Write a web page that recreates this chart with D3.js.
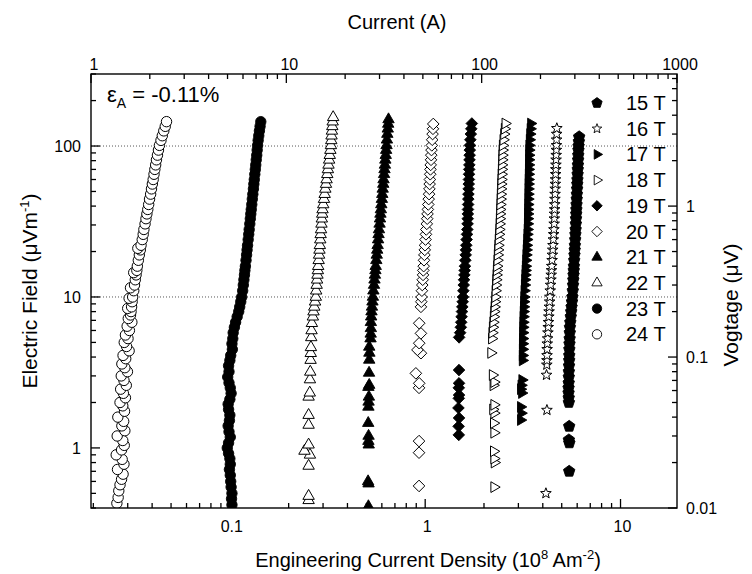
<!DOCTYPE html>
<html>
<head>
<meta charset="utf-8">
<style>
  body { margin: 0; background: #fff; }
  svg { font-family: Arial, "Liberation Sans", sans-serif; }
</style>
</head>
<body>
<svg width="752" height="574"></svg>
<script src="https://d3js.org/d3.v7.min.js"></script>
<script>
// points are [Je (1e8 A/m2), E (uV/m)]
const b15 = [[6.14,115],[6.12,107],[6.10,100],[6.09,94],[6.077,87],[6.066,81],[6.053,75],[6.042,70],[6.03,65],[6.017,60],[6.006,56],[5.994,52],[5.981,48],[5.968,44.5],[5.955,41],[5.943,38],[5.932,35.5],[5.92,33],[5.907,30.5],[5.891,28],[5.876,26],[5.86,24],[5.841,22],[5.827,20.5],[5.811,19],[5.794,17.5],[5.775,16],[5.762,15],[5.748,14],[5.733,13],[5.716,12],[5.697,11],[5.67,10],[5.644,9.3],[5.616,8.6],[5.591,8],[5.564,7.4],[5.533,6.8],[5.508,6.3],[5.5,5.8],[5.49,5.3],[5.48,4.9],[5.47,4.5],[5.465,4.1],[5.46,3.8],[5.45,3.5],[5.44,3.2],[5.435,2.95],[5.43,2.7],[5.42,2.5],[5.42,2.32],[5.43,2.15],[5.44,2.0],
  [5.46,1.39],[5.44,1.13],[5.47,1.08],[5.46,0.70]];
const b16 = [[4.72,131],[4.712,120],[4.706,110],[4.70,101],[4.694,94],[4.685,87],[4.678,81],[4.67,75],[4.662,70],[4.655,65],[4.646,60],[4.639,56],[4.631,52],[4.622,48],[4.615,44.5],[4.606,41],[4.598,38],[4.591,35.5],[4.583,33],[4.575,30.5],[4.561,28],[4.546,26],[4.53,24],[4.511,22],[4.497,20.5],[4.481,19],[4.464,17.5],[4.445,16],[4.432,15],[4.418,14],[4.403,13],[4.386,12],[4.367,11],[4.349,10],[4.336,9.3],[4.322,8.6],[4.308,8],[4.294,7.4],[4.278,6.8],[4.265,6.3],[4.249,5.8],[4.233,5.3],[4.218,4.9],[4.21,4.5],[4.205,4.1],[4.2,3.8],[4.195,3.55],
  [4.18,3.04],[4.2,1.78],[4.15,0.5]];
const b17 = [[3.47,141],[3.452,130],[3.435,120],[3.418,110],[3.402,101],[3.397,94],[3.393,87],[3.39,81],[3.386,75],[3.383,70],[3.379,65],[3.375,60],[3.372,56],[3.368,52],[3.364,48],[3.361,44.5],[3.357,41],[3.353,38],[3.35,35.5],[3.346,33],[3.342,30.5],[3.335,28],[3.325,26],[3.315,24],[3.304,22],[3.295,20.5],[3.285,19],[3.275,17.5],[3.263,16],[3.255,15],[3.246,14],[3.236,13],[3.226,12],[3.214,11],[3.205,10],[3.198,9.3],[3.19,8.6],[3.183,8],[3.176,7.4],[3.17,6.8],[3.165,6.3],[3.16,5.8],[3.155,5.3],[3.152,4.9],[3.15,4.5],[3.148,4.1],[3.146,3.8],
  [3.13,2.82],[3.1,2.6],[3.08,2.45],[3.12,2.31],[3.08,1.87],[3.1,1.7],[3.08,1.53]];
const b18 = [[2.567,141],[2.546,130],[2.527,120],[2.507,110],[2.488,101],[2.481,94],[2.475,87],[2.47,81],[2.464,75],[2.459,70],[2.453,65],[2.447,60],[2.441,56],[2.436,52],[2.429,48],[2.424,44.5],[2.417,41],[2.411,38],[2.406,35.5],[2.401,33],[2.395,30.5],[2.387,28],[2.378,26],[2.37,24],[2.36,22],[2.352,20.5],[2.344,19],[2.335,17.5],[2.325,16],[2.318,15],[2.311,14],[2.303,13],[2.294,12],[2.284,11],[2.277,10],[2.268,9.3],[2.258,8.6],[2.248,8],[2.237,7.4],[2.225,6.8],[2.212,6.3],[2.2,5.8],[2.19,5.3],
  [2.17,4.26],[2.21,3.04],[2.25,2.73],[2.23,2.6],[2.25,1.93],[2.22,1.8],[2.25,1.7],[2.24,1.46],[2.25,1.26],[2.24,0.95],[2.25,0.85],[2.26,0.8],[2.25,0.55]];
const b19 = [[1.733,141],[1.722,130],[1.712,120],[1.703,110],[1.695,101],[1.692,94],[1.689,87],[1.686,81],[1.683,75],[1.68,70],[1.677,65],[1.674,60],[1.671,56],[1.669,52],[1.665,48],[1.662,44.5],[1.659,41],[1.656,38],[1.654,35.5],[1.651,33],[1.648,30.5],[1.643,28],[1.637,26],[1.63,24],[1.623,22],[1.618,20.5],[1.612,19],[1.605,17.5],[1.598,16],[1.593,15],[1.587,14],[1.581,13],[1.575,12],[1.568,11],[1.562,10],[1.556,9.3],[1.549,8.6],[1.543,8],[1.536,7.4],[1.529,6.8],[1.522,6.3],[1.51,5.8],[1.492,5.4],
  [1.49,3.28],[1.49,2.68],[1.486,2.5],[1.49,2.24],[1.486,2.13],[1.48,1.84],[1.49,1.58],[1.483,1.39],[1.486,1.22]];
const b20 = [[1.1,140],[1.096,130],[1.091,120],[1.086,110],[1.081,101],[1.077,94],[1.074,87],[1.071,81],[1.067,75],[1.064,70],[1.061,65],[1.057,60],[1.054,56],[1.051,52],[1.047,48],[1.042,44.5],[1.037,41],[1.032,38],[1.028,35.5],[1.024,33],[1.019,30.5],[1.013,28],[1.009,26],[1.004,24],[0.998,22],[0.995,20.5],[0.991,19],[0.986,17.5],[0.982,16],[0.978,15],[0.975,14],[0.971,13],[0.966,12],[0.962,11],[0.958,10],[0.955,9.3],
  [0.951,8.6],[0.932,6.7],[0.951,5.74],[0.932,4.94],[0.913,4.46],[0.951,4.24],[0.896,3.12],[0.932,2.68],[0.93,2.5],[0.93,1.11],[0.93,0.93],[0.93,0.56]];
const b21 = [[0.649,150],[0.6465,140],[0.6435,130],[0.64,120],[0.637,110],[0.634,101],[0.631,94],[0.628,87],[0.625,81],[0.622,75],[0.619,70],[0.616,65],[0.612,60],[0.61,56],[0.606,52],[0.603,48],[0.6,44.5],[0.596,41],[0.593,38],[0.59,35.5],[0.587,33],[0.584,30.5],[0.58,28],[0.577,26],[0.574,24],[0.571,22],[0.568,20.5],[0.565,19],[0.562,17.5],[0.558,16],[0.556,15],[0.553,14],[0.55,13],[0.547,12],[0.543,11],[0.54,10],[0.537,9.3],[0.534,8.6],[0.531,8],
  [0.529,7.4],[0.527,6.8],[0.527,6.2],[0.526,5.7],[0.525,5.3],[0.517,4.67],[0.518,4.26],[0.517,3.83],[0.516,3.14],[0.517,2.61],[0.512,2.53],[0.515,2.18],[0.513,2.02],[0.512,1.87],[0.511,1.46],[0.513,1.2],[0.512,1.11],[0.514,1.05],[0.51,0.6],[0.513,0.58],[0.512,0.41]];
const b22 = [[0.338,155],[0.336,145],[0.3345,135],[0.333,126],[0.3315,117],[0.3305,109],[0.3292,101],[0.327,94],[0.3246,87],[0.3223,81],[0.3199,75],[0.3177,70],[0.3153,65],[0.3128,60],[0.3106,56],[0.3082,52],[0.3057,48],[0.3033,44.5],[0.3007,41],[0.2982,38],[0.297,35.5],[0.2957,33],[0.2944,30.5],[0.2929,28],[0.2916,26],[0.2903,24],[0.2888,22],[0.2876,20.5],[0.2863,19],[0.2849,17.5],[0.2833,16],[0.2822,15],[0.2809,14],[0.2796,13],[0.2782,12],[0.2767,11],[0.2755,10],[0.273,9.3],[0.2705,8.6],[0.268,8],
  [0.266,7.4],[0.263,6.7],[0.262,6.0],[0.261,5.4],[0.26,4.64],[0.2595,4.24],[0.259,3.82],[0.258,3.19],[0.257,2.84],[0.2565,2.32],[0.253,2.18],[0.253,1.65],[0.253,1.42],[0.253,1.05],[0.241,0.955],[0.257,0.9],[0.253,0.76],[0.253,0.48],[0.253,0.45]];
const b23 = [[0.144,145],[0.1428,135],[0.1417,126],[0.1406,117],[0.1396,109],[0.1387,101],[0.138,94],[0.1373,87],[0.1365,81],[0.1357,75],[0.135,70],[0.1342,65],[0.1334,60],[0.1327,56],[0.132,52],[0.1311,48],[0.1303,44.5],[0.1295,41],[0.1287,38],[0.128,35.5],[0.1273,33],[0.1265,30.5],[0.1256,28],[0.1249,26],[0.1241,24],[0.1232,22],[0.1225,20.5],[0.1218,19],[0.121,17.5],[0.1201,16],[0.1194,15],[0.1188,14],[0.118,13],[0.1172,12],[0.1163,11],[0.115,10],[0.1137,9.3],[0.1123,8.6],[0.111,8],
  [0.109,7.4],[0.107,6.8],[0.1055,6.3],[0.104,5.8],[0.1035,5.3],[0.1025,4.9],[0.103,4.5],[0.101,4.1],[0.1,3.8],[0.0985,3.5],[0.099,3.2],[0.0975,2.95],[0.099,2.7],[0.1005,2.5],[0.1015,2.3],[0.1,2.1],[0.098,1.95],[0.0985,1.8],[0.1,1.65],[0.0995,1.52],[0.098,1.4],[0.099,1.28],[0.1005,1.18],[0.0985,1.08],[0.097,1.0],[0.0985,0.92],[0.1,0.85],[0.1005,0.78],[0.0995,0.72],[0.1005,0.66],[0.101,0.6],[0.1015,0.55],[0.1025,0.5],[0.102,0.46],[0.1025,0.42]];
const b24 = [[0.0474,145],[0.0467,135],[0.0459,126],[0.0451,117],[0.0444,109],[0.0436,101],[0.0431,94],[0.0426,87],[0.0421,81],[0.0417,75],[0.0413,70],[0.0409,65],[0.0405,60],[0.0401,56],[0.0397,52],[0.0393,48],[0.0388,44.5],[0.0384,41],[0.038,38],[0.0376,35.5],[0.0372,33],[0.0368,30.5],[0.0363,28],[0.036,26],[0.0356,24],[0.0351,22],[0.0338,21],[0.0348,20.5],[0.0344,19],[0.034,17.5],[0.0336,16],[0.0334,15],[0.0322,14.5],[0.0331,14],[0.0328,13],[0.0325,12],[0.031,11.5],[0.0322,11],[0.0318,10],[0.0305,9.8],[0.0316,9.3],[0.0314,8.6],[0.03,8.4],[0.0312,8],
  [0.031,7.6],[0.0302,7.2],[0.0315,6.8],[0.0298,6.4],[0.0306,6.0],[0.0292,5.6],[0.0301,5.3],[0.0288,5.0],[0.0296,4.7],[0.0305,4.4],[0.0284,4.1],[0.0293,3.9],[0.028,3.6],[0.029,3.4],[0.0299,3.2],[0.0278,3.0],[0.0287,2.8],[0.0295,2.6],[0.0276,2.45],[0.0285,2.3],[0.0292,2.15],[0.0274,2.0],[0.0283,1.9],[0.0289,1.75],[0.0267,1.6],[0.0286,1.5],[0.028,1.4],[0.029,1.3],[0.0265,1.2],[0.0283,1.12],[0.0288,1.04],[0.0279,0.97],[0.0262,0.9],[0.0281,0.84],[0.0287,0.78],[0.0266,0.72],[0.0284,0.67],[0.0279,0.62],[0.0274,0.57],[0.027,0.52],[0.0268,0.47],[0.0264,0.43]];

const fields = ["15 T", "16 T", "17 T", "18 T", "19 T", "20 T", "21 T", "22 T", "23 T", "24 T"];
const fieldData = [b15, b16, b17, b18, b19, b20, b21, b22, b23, b24];

// marker per field: shape + filled or open
const markerStyle = [
  { shape: "pentagon", filled: true },
  { shape: "star", filled: false },
  { shape: "triRight", filled: true },
  { shape: "triRight", filled: false },
  { shape: "diamond", filled: true },
  { shape: "diamond", filled: false },
  { shape: "triUp", filled: true },
  { shape: "triUp", filled: false },
  { shape: "circle", filled: true },
  { shape: "circle", filled: false }
];

// custom d3 symbol types, "size" is used as the outer radius
const shapes = {
  circle: { draw(c, r) { c.moveTo(r, 0); c.arc(0, 0, r, 0, 2 * Math.PI); } },
  triUp: { draw(c, r) { c.moveTo(0, -r); c.lineTo(r * 0.866, r * 0.5); c.lineTo(-r * 0.866, r * 0.5); c.closePath(); } },
  triRight: { draw(c, r) { c.moveTo(r, 0); c.lineTo(-r * 0.5, r * 0.866); c.lineTo(-r * 0.5, -r * 0.866); c.closePath(); } },
  diamond: { draw(c, r) { c.moveTo(0, -r); c.lineTo(r, 0); c.lineTo(0, r); c.lineTo(-r, 0); c.closePath(); } },
  star: { draw(c, r) {
    for (let i = 0; i < 10; i++) {
      const a = -Math.PI / 2 + i * Math.PI / 5, rr = i % 2 ? r * 0.42 : r;
      i ? c.lineTo(rr * Math.cos(a), rr * Math.sin(a)) : c.moveTo(rr * Math.cos(a), rr * Math.sin(a));
    }
    c.closePath();
  } },
  pentagon: { draw(c, r) {
    for (let i = 0; i < 5; i++) {
      const a = -Math.PI / 2 + i * 2 * Math.PI / 5;
      i ? c.lineTo(r * Math.cos(a), r * Math.sin(a)) : c.moveTo(r * Math.cos(a), r * Math.sin(a));
    }
    c.closePath();
  } }
};
const shapeSize = { circle: 5.2, triUp: 6.6, triRight: 6.2, diamond: 5.8, star: 5.6, pentagon: 6 };

const L = 91, R = 677, T = 74, B = 508;
const svg = d3.select("svg");

const x = d3.scaleLog().domain([0.01946, 19.46]).range([L, R]);
const xTop = d3.scaleLog().domain([1, 1000]).range([L, R]);
const y = d3.scaleLog().domain([0.4, 300]).range([B, T]);
const yRight = d3.scaleLog().domain([0.01, 7.5]).range([B, T]);

const isMajor = v => Math.abs(Math.log10(v) - Math.round(Math.log10(v))) < 1e-6;

// dotted grid at 10 and 100
svg.append("g")
  .selectAll("line")
  .data([10, 100])
  .join("line")
  .attr("x1", L).attr("x2", R)
  .attr("y1", d => y(d)).attr("y2", d => y(d))
  .attr("stroke", "#555")
  .attr("stroke-width", 1)
  .attr("stroke-dasharray", "1,2");

svg.append("defs").append("clipPath").attr("id", "plot")
  .append("rect").attr("x", L).attr("y", T).attr("width", R - L).attr("height", B - T);

const symbolGen = d3.symbol();
const dataLayer = svg.append("g").attr("clip-path", "url(#plot)");

fieldData.forEach((pts, i) => {
  const st = markerStyle[i];
  const sorted = pts.slice().sort((a, b) => a[1] - b[1]);
  dataLayer.append("g")
    .selectAll("path")
    .data(sorted)
    .join("path")
    .attr("transform", d => `translate(${x(d[0])},${y(d[1])})`)
    .attr("d", symbolGen.type(shapes[st.shape]).size(shapeSize[st.shape])())
    .attr("fill", st.filled ? "#000" : "#fff")
    .attr("stroke", "#000")
    .attr("stroke-width", st.filled ? 0.9 : 1);
});

// frame
svg.append("rect")
  .attr("x", L).attr("y", T).attr("width", R - L).attr("height", B - T)
  .attr("fill", "none").attr("stroke", "#000").attr("stroke-width", 1.4);

const tickG = svg.append("g").attr("stroke", "#000").attr("stroke-width", 1.3);
const tl = v => isMajor(v) ? 9 : 5;

tickG.selectAll(".tb").data(x.ticks()).join("line")
  .attr("x1", d => x(d)).attr("x2", d => x(d)).attr("y1", B).attr("y2", d => B - tl(d));
tickG.selectAll(".tt").data(xTop.ticks()).join("line")
  .attr("class", "tt")
  .attr("x1", d => xTop(d)).attr("x2", d => xTop(d)).attr("y1", T).attr("y2", d => T + tl(d));
tickG.selectAll(".tl").data(y.ticks()).join("line")
  .attr("class", "tl")
  .attr("x1", L).attr("x2", d => L + tl(d)).attr("y1", d => y(d)).attr("y2", d => y(d));
tickG.selectAll(".tr").data(yRight.ticks()).join("line")
  .attr("class", "tr")
  .attr("x1", R).attr("x2", d => R - tl(d)).attr("y1", d => yRight(d)).attr("y2", d => yRight(d));

const labelG = svg.append("g").attr("font-size", 16).attr("fill", "#000");
labelG.selectAll(".lb").data(x.ticks().filter(isMajor)).join("text")
  .attr("class", "lb").attr("x", d => x(d) + 2).attr("y", 532)
  .attr("text-anchor", "middle").text(d => d);
labelG.selectAll(".lt").data(xTop.ticks().filter(isMajor)).join("text")
  .attr("class", "lt").attr("x", d => xTop(d) + 3).attr("y", 70)
  .attr("text-anchor", "middle").text(d => d);
labelG.selectAll(".ll").data(y.ticks().filter(isMajor)).join("text")
  .attr("class", "ll").attr("x", 81).attr("y", d => y(d) + 6)
  .attr("text-anchor", "end").text(d => d);
labelG.selectAll(".lr").data(yRight.ticks().filter(isMajor)).join("text")
  .attr("class", "lr").attr("x", 686).attr("y", d => yRight(d) + 6)
  .attr("text-anchor", "start").text(d => d);

// axis titles
svg.append("text").attr("x", 397).attr("y", 29).attr("text-anchor", "middle")
  .attr("font-size", 20).text("Current (A)");

const xt = svg.append("text").attr("x", 428).attr("y", 567).attr("text-anchor", "middle")
  .attr("font-size", 20);
xt.append("tspan").text("Engineering Current Density (10");
xt.append("tspan").attr("dy", -8).attr("font-size", 13).text("8");
xt.append("tspan").attr("dy", 8).text(" Am");
xt.append("tspan").attr("dy", -8).attr("font-size", 13).text("-2");
xt.append("tspan").attr("dy", 8).text(")");

const yt = svg.append("text").attr("transform", "translate(37,291) rotate(-90)")
  .attr("text-anchor", "middle").attr("font-size", 21);
yt.append("tspan").text("Electric Field (\u03bcVm");
yt.append("tspan").attr("dy", -8).attr("font-size", 13).text("-1");
yt.append("tspan").attr("dy", 8).text(")");

svg.append("text").attr("transform", "translate(738,305) rotate(-90)")
  .attr("text-anchor", "middle").attr("font-size", 21).text("Vogtage (\u03bcV)");

// strain annotation
const ann = svg.append("text").attr("x", 107).attr("y", 102).attr("font-size", 22);
ann.append("tspan").text("\u03b5");
ann.append("tspan").attr("dy", 6).attr("font-size", 14).text("A");
ann.append("tspan").attr("dy", -6).text(" = -0.11%");

// legend
const leg = svg.append("g").selectAll("g").data(fields).join("g")
  .attr("transform", (d, i) => `translate(597,${103 + i * 25.7})`);
leg.append("path")
  .attr("d", (d, i) => symbolGen.type(shapes[markerStyle[i].shape]).size(shapeSize[markerStyle[i].shape] * 0.9)())
  .attr("fill", (d, i) => markerStyle[i].filled ? "#000" : "#fff")
  .attr("stroke", "#000").attr("stroke-width", 0.9);
leg.append("text").attr("x", 29).attr("y", 7).attr("font-size", 20).text(d => d);
</script>
</body>
</html>
